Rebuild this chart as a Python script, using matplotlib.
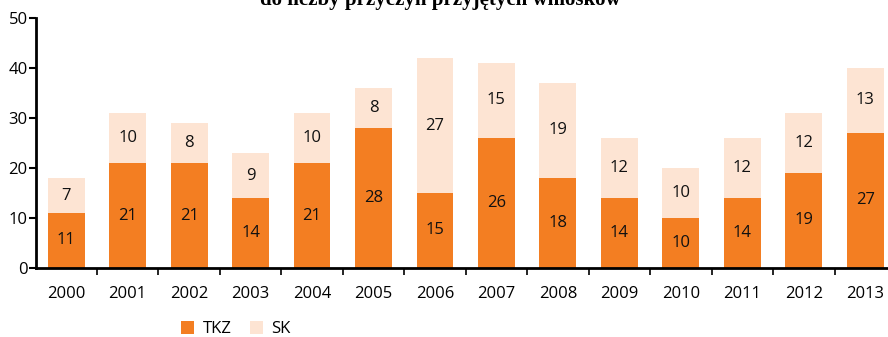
import matplotlib
matplotlib.use("Agg")
import matplotlib.pyplot as plt
import numpy as np

years = ["2000", "2001", "2002", "2003", "2004", "2005", "2006",
         "2007", "2008", "2009", "2010", "2011", "2012", "2013"]
tkz = [11, 21, 21, 14, 21, 28, 15, 26, 18, 14, 10, 14, 19, 27]
sk = [7, 10, 8, 9, 10, 8, 27, 15, 19, 12, 10, 12, 12, 13]
series_names = ["TKZ", "SK"]

c_tkz = "#F37E22"
c_sk = "#FDE4D3"

plt.rcParams["font.family"] = ["Open Sans", "DejaVu Sans"]

W, H = 888, 337
fig = plt.figure(figsize=(W / 100, H / 100), dpi=100)
ax = fig.add_axes([36 / W, (H - 268) / H, (W - 36) / W, 250 / H])

x = np.arange(len(years))
bw = 0.6
b1 = ax.bar(x, tkz, width=bw, color=c_tkz, label=series_names[0], zorder=2)
b2 = ax.bar(x, sk, width=bw, bottom=tkz, color=c_sk, label=series_names[1], zorder=2)

for xi, a, b in zip(x, tkz, sk):
    ax.text(xi, a / 2, str(a), ha="center", va="center", fontsize=12, color="#111111")
    ax.text(xi, a + b / 2, str(b), ha="center", va="center", fontsize=12, color="#111111")

ax.set_xlim(-0.49, 13.37)
ax.set_ylim(0, 50)
ax.set_yticks([0, 10, 20, 30, 40, 50])
ax.tick_params(axis="y", labelsize=12, length=5, width=1.5, pad=1)

ax.set_xticks(x)
ax.set_xticklabels(years, fontsize=12)
ax.tick_params(axis="x", which="major", length=0, pad=13)
ax.set_xticks(np.arange(0.5, 13, 1), minor=True)
ax.tick_params(axis="x", which="minor", length=5, width=1.2)

for s in ("top", "right"):
    ax.spines[s].set_visible(False)
ax.spines["left"].set_linewidth(2)
ax.spines["bottom"].set_linewidth(2)

leg = fig.legend(handles=[b1, b2], labels=series_names, loc="center left",
                 bbox_to_anchor=(166 / W, 1 - 329 / H), ncol=2, frameon=False,
                 fontsize=12, handlelength=0.8, handleheight=0.8,
                 columnspacing=1.1, handletextpad=0.5)

fig.text(440 / W, 1 - 5 / H, "do liczby przyczyn przyjętych wniosków",
         ha="center", va="baseline", fontsize=15, fontweight="bold",
         family=["Liberation Serif", "DejaVu Serif"])

fig.savefig("out.png", dpi=100)
